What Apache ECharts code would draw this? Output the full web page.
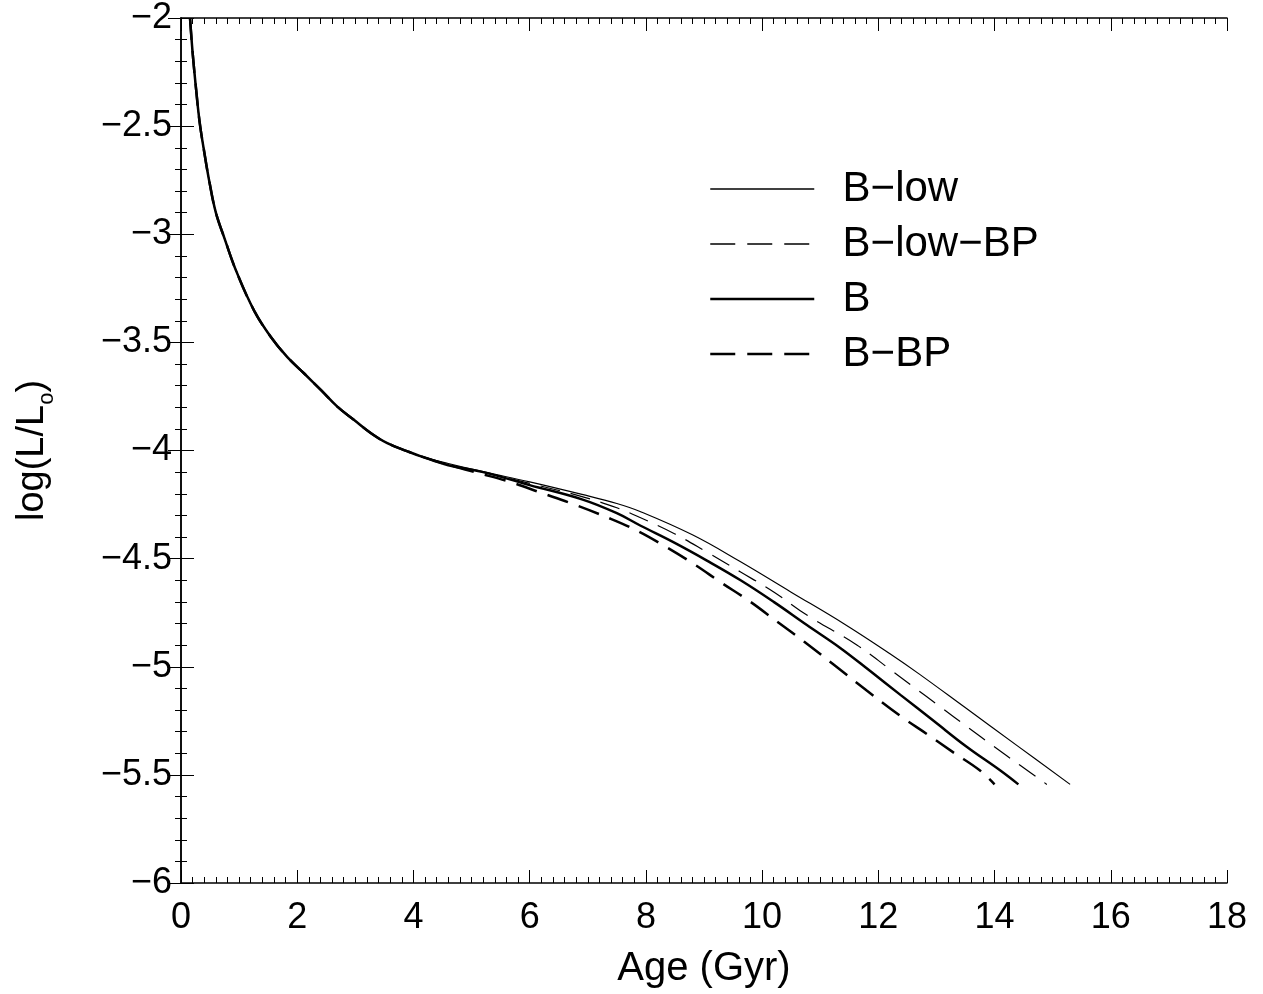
<!DOCTYPE html>
<html>
<head>
<meta charset="utf-8">
<script src="https://cdn.jsdelivr.net/npm/echarts@6/dist/echarts.min.js"></script>
<style>
html,body{margin:0;padding:0;background:#fff;}
#chart{width:1263px;height:994px;}
</style>
</head>
<body>
<div id="chart"></div>
<script>
// Shared early cooling track (all four models overlap)
const commonAge  = [0.155, 0.2, 0.26, 0.32, 0.4, 0.49, 0.6, 0.75, 0.95, 1.26, 1.55, 1.83, 2.12, 2.41, 2.69, 2.98, 3.27, 3.55, 3.9, 4.13];
const commonLogL = [-2.0, -2.16, -2.33, -2.48, -2.62, -2.76, -2.9, -3.02, -3.17, -3.354, -3.476, -3.568, -3.644, -3.721, -3.797, -3.859, -3.92, -3.966, -4.004, -4.027];

// B-low
const bLowAge  = [4.6, 5.2, 6.0, 6.9, 7.5, 7.9, 8.8, 9.6, 10.5, 11.4, 12.2, 12.7, 13.5, 14.4, 15.3];
const bLowLogL = [-4.06, -4.098, -4.145, -4.203, -4.245, -4.282, -4.39, -4.51, -4.655, -4.80, -4.94, -5.033, -5.19, -5.367, -5.544];

// B-low-BP
const bLowBPAge  = [4.6, 5.2, 6.0, 6.9, 7.5, 7.9, 8.5, 9.05, 9.63, 10.2, 10.77, 11.63, 12.21, 12.6, 13.07, 13.52, 13.98, 14.44, 14.9];
const bLowBPLogL = [-4.065, -4.10, -4.152, -4.213, -4.265, -4.31, -4.386, -4.47, -4.562, -4.654, -4.761, -4.899, -5.014, -5.092, -5.186, -5.276, -5.367, -5.456, -5.544];

// B
const bAge  = [4.6, 5.2, 6.0, 6.9, 7.5, 7.91, 8.48, 9.05, 9.63, 10.2, 10.77, 11.35, 11.86, 12.38, 12.95, 13.52, 14.1, 14.41];
const bLogL = [-4.068, -4.10, -4.16, -4.226, -4.29, -4.348, -4.425, -4.509, -4.60, -4.70, -4.807, -4.914, -5.02, -5.13, -5.25, -5.37, -5.48, -5.544];

// B-BP
const bBPAge  = [4.585, 5.10, 5.67, 6.19, 6.76, 7.34, 7.85, 8.31, 8.82, 9.28, 9.80, 10.26, 10.72, 11.23, 11.8, 12.38, 12.84, 13.29, 13.75, 14.0];
const bBPLogL = [-4.065, -4.103, -4.146, -4.195, -4.249, -4.31, -4.371, -4.44, -4.524, -4.608, -4.70, -4.792, -4.883, -4.99, -5.11, -5.228, -5.312, -5.396, -5.48, -5.544];

const seriesNames = ['B\u2212low', 'B\u2212low\u2212BP', 'B', 'B\u2212BP'];

function track(ages, vals) {
  const pts = commonAge.map((a, i) => [a, commonLogL[i]]);
  ages.forEach((a, i) => pts.push([a, vals[i]]));
  return pts;
}

const minus = v => String(v).replace('-', '\u2212');
const font = '"Liberation Sans", Arial, Helvetica, sans-serif';

const axisCommon = {
  axisLine: { show: true, lineStyle: { color: '#000', width: 1.5 } },
  axisTick: { show: true, inside: true, length: 13, lineStyle: { color: '#000', width: 1 } },
  minorTick: { show: true, length: 6, lineStyle: { color: '#000', width: 1 } },
  splitLine: { show: false },
  minorSplitLine: { show: false }
};

const legendItem = (name, width, type) => ({
  name: name,
  lineStyle: { color: '#000', width: width, type: type, opacity: 1 },
  itemStyle: { color: '#000', opacity: 0, borderWidth: 0 }
});

const chart = echarts.init(document.getElementById('chart'), null, { renderer: 'canvas' });
chart.setOption({
  animation: false,
  backgroundColor: '#fff',
  color: ['#000', '#000', '#000', '#000'],
  textStyle: { fontFamily: font },
  grid: { left: 180, right: 36, top: 15, bottom: 107.5, containLabel: false },
  legend: {
    orient: 'vertical',
    left: 709,
    top: 167,
    padding: 0,
    itemWidth: 104,
    itemHeight: 14,
    itemGap: 11,
    selectedMode: false,
    formatter: name => '  ' + name,
    textStyle: { fontSize: 42, color: '#000', fontFamily: font, lineHeight: 44 },
    data: [
      legendItem(seriesNames[0], 1.3, 'solid'),
      legendItem(seriesNames[1], 1.3, [25, 12]),
      legendItem(seriesNames[2], 2.5, 'solid'),
      legendItem(seriesNames[3], 2.5, [25, 12])
    ]
  },
  xAxis: [
    Object.assign({}, axisCommon, {
      type: 'value', min: 0, max: 18, interval: 2, position: 'bottom',
      minorTick: Object.assign({}, axisCommon.minorTick, { splitNumber: 10 }),
      axisLabel: { fontSize: 36, color: '#000', margin: 17, fontFamily: font },
      name: 'Age (Gyr)', nameLocation: 'middle', nameGap: 66,
      nameTextStyle: { fontSize: 40, color: '#000', fontFamily: font }
    }),
    Object.assign({}, axisCommon, {
      type: 'value', min: 0, max: 18, interval: 2, position: 'top',
      minorTick: Object.assign({}, axisCommon.minorTick, { splitNumber: 10 }),
      axisLabel: { show: false }
    })
  ],
  yAxis: [
    Object.assign({}, axisCommon, {
      type: 'value', min: -6, max: -2, interval: 0.5, position: 'left',
      minorTick: Object.assign({}, axisCommon.minorTick, { splitNumber: 5 }),
      axisLabel: { fontSize: 36, color: '#000', margin: 9, fontFamily: font, formatter: v => minus(v) },
      name: 'log(L/L{sub|o})', nameLocation: 'middle', nameGap: 148, nameRotate: 90,
      nameTextStyle: {
        fontSize: 38, color: '#000', fontFamily: font, lineHeight: 50, verticalAlign: 'middle',
        rich: { sub: { fontSize: 22, lineHeight: 18, verticalAlign: 'bottom', color: '#000', fontFamily: font } }
      }
    }),
    Object.assign({}, axisCommon, {
      type: 'value', min: -6, max: -2, interval: 0.5, position: 'right',
      minorTick: Object.assign({}, axisCommon.minorTick, { splitNumber: 5 }),
      axisLabel: { show: false }
    })
  ],
  series: [
    { name: seriesNames[0], type: 'line', data: track(bLowAge, bLowLogL), smooth: 0.4, symbol: 'none', showSymbol: false,
      itemStyle: { color: '#000' }, lineStyle: { color: '#000', width: 1.2, type: 'solid' }, clip: true },
    { name: seriesNames[1], type: 'line', data: track(bLowBPAge, bLowBPLogL), smooth: 0.4, symbol: 'none', showSymbol: false,
      itemStyle: { color: '#000' }, lineStyle: { color: '#000', width: 1.2, type: [20, 11] }, clip: true },
    { name: seriesNames[2], type: 'line', data: track(bAge, bLogL), smooth: 0.4, symbol: 'none', showSymbol: false,
      itemStyle: { color: '#000' }, lineStyle: { color: '#000', width: 2.5, type: 'solid' }, clip: true },
    { name: seriesNames[3], type: 'line', data: track(bBPAge, bBPLogL), smooth: 0.4, symbol: 'none', showSymbol: false,
      itemStyle: { color: '#000' }, lineStyle: { color: '#000', width: 2.5, type: [22, 11] }, clip: true }
  ]
});
</script>
</body>
</html>
